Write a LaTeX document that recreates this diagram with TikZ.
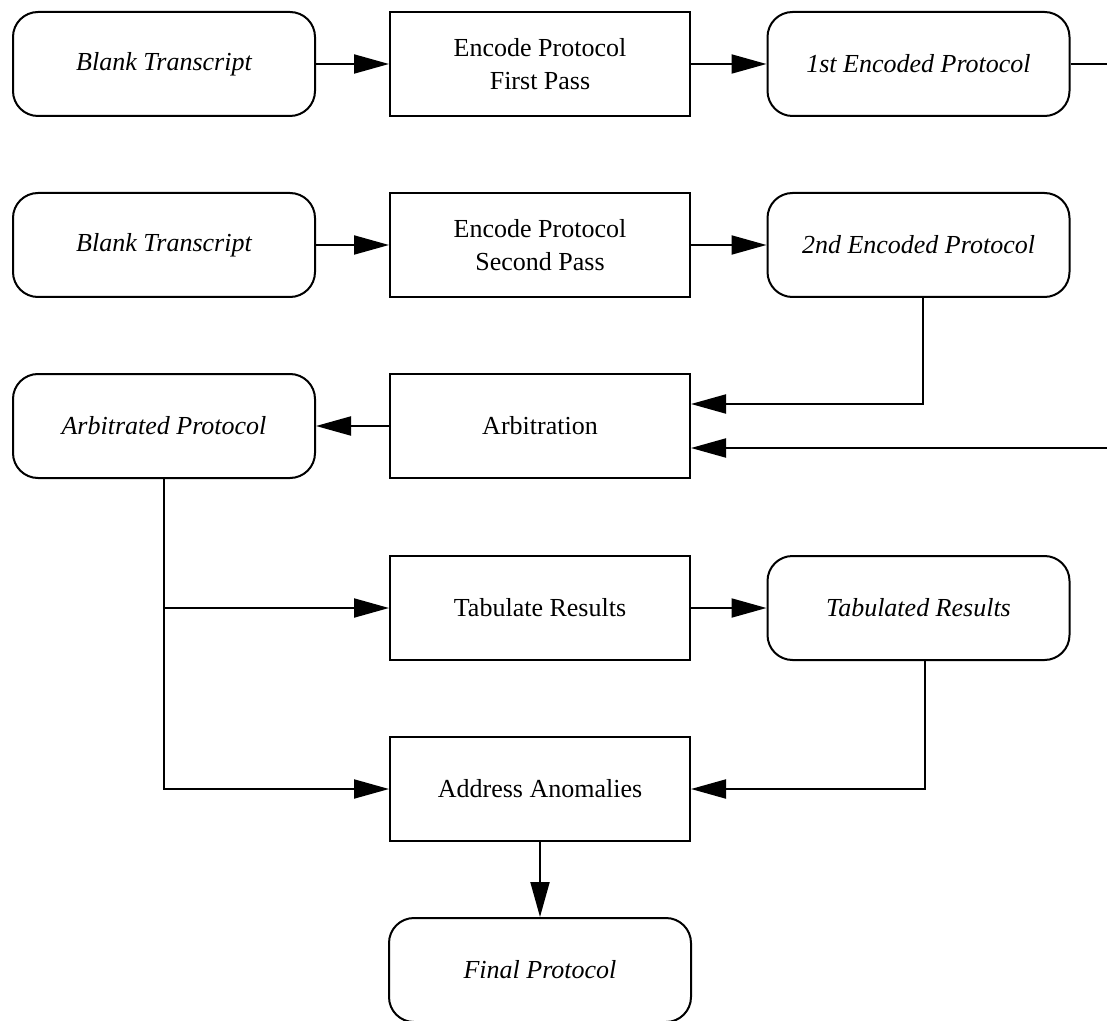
\documentclass[tikz,border=0pt]{standalone}
\usepackage{fontspec}
\setmainfont{Liberation Serif}
\usetikzlibrary{arrows.meta}
\begin{document}
\begin{tikzpicture}[x=0.5pt,y=-0.5pt,
  every node/.style={font=\fontsize{13pt}{16.5pt}\selectfont, line width=1pt, inner sep=0pt, align=center},
  databox/.style={draw, rounded corners=12.5pt, minimum width=151pt, minimum height=52pt, font=\fontsize{13pt}{16.5pt}\selectfont\itshape},
  procbox/.style={draw, minimum width=150pt, minimum height=52pt},
  conn/.style={line width=1pt, -{Triangle[length=17.5pt,width=9.5pt]}},
  plain/.style={line width=1pt}]
\useasboundingbox (0,0) rectangle (1107,1021);
% row 1
\node[databox] (bt1) at (164,64) {Blank Transcript};
\node[procbox] (ep1) at (540,64) {Encode Protocol\\First Pass};
\node[databox] (e1) at (918.5,64) {1st Encoded Protocol};
% row 2
\node[databox] (bt2) at (164,245) {Blank Transcript};
\node[procbox] (ep2) at (540,245) {Encode Protocol\\Second Pass};
\node[databox] (e2) at (918.5,245) {2nd Encoded Protocol};
% row 3
\node[databox] (ap) at (164,426) {Arbitrated Protocol};
\node[procbox] (arb) at (540,426) {Arbitration};
% row 4
\node[procbox] (tab) at (540,608) {Tabulate Results};
\node[databox] (tr) at (918.5,608) {Tabulated Results};
% row 5
\node[procbox] (aa) at (540,789) {Address Anomalies};
\node[databox] (fp) at (540,970) {Final Protocol};
% free ends
\coordinate (out1) at (1107,64);
\coordinate (in1) at (1107,448);
% connectors
\draw[conn] (bt1) -- (ep1);
\draw[conn] (ep1) -- (e1);
\draw[plain] (e1) -- (out1);
\draw[conn] (bt2) -- (ep2);
\draw[conn] (ep2) -- (e2);
\draw[conn] ([xshift=2pt]e2.south) |- ([yshift=11pt]arb.east);
\draw[conn] (in1) -- ([yshift=-11pt]arb.east);
\draw[conn] (arb) -- (ap);
\draw[conn] (ap.south) |- (aa.west);
\draw[conn] (ap.south |- tab.west) -- (tab.west);
\draw[conn] (tab) -- (tr);
\draw[conn] ([xshift=3pt]tr.south) |- (aa.east);
\draw[conn] (aa) -- (fp);
\end{tikzpicture}
\end{document}
